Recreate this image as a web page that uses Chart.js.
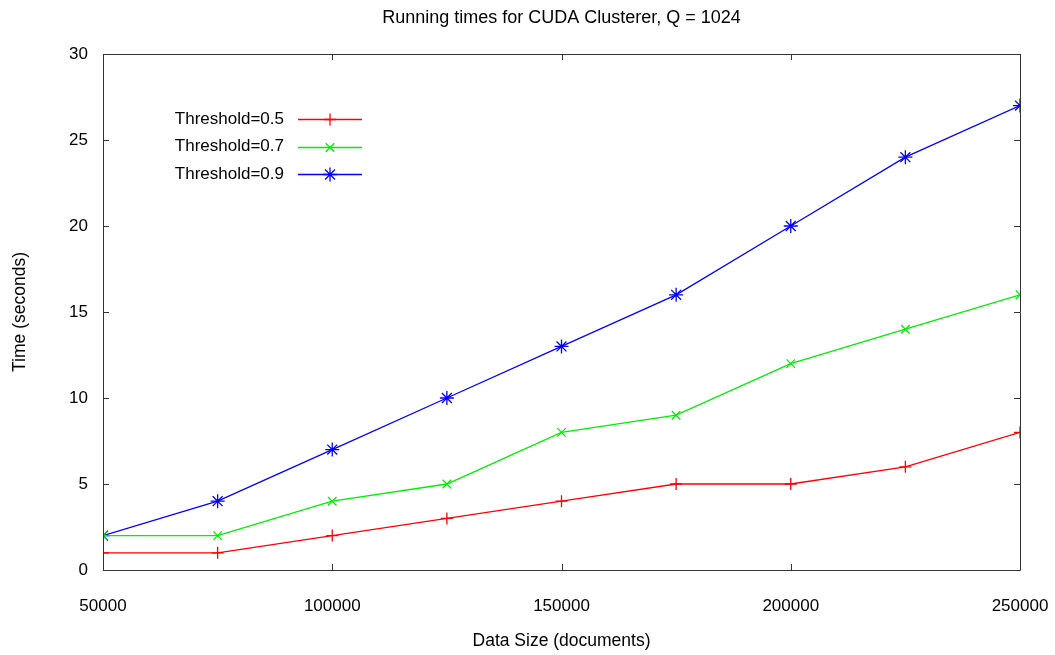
<!DOCTYPE html>
<html>
<head>
<meta charset="utf-8">
<script src="https://cdn.jsdelivr.net/npm/chart.js@4"></script>
<style>
  html, body { margin: 0; padding: 0; background: #fff; }
  #wrap { width: 1055px; height: 655px; }
</style>
</head>
<body>
<div id="wrap"><canvas id="chart"></canvas></div>
<script>
// data
var dataSizes = [50000, 75000, 100000, 125000, 150000, 175000, 200000, 225000, 250000];
var threshold05 = [1, 1, 2, 3, 4, 5, 5, 6, 8];
var threshold07 = [2, 2, 4, 5, 8, 9, 12, 14, 16];
var threshold09 = [2, 4, 7, 10, 13, 16, 20, 24, 27];
var seriesLabels = ['Threshold=0.5', 'Threshold=0.7', 'Threshold=0.9'];
var xTicks = [50000, 100000, 150000, 200000, 250000];
var yTicks = [0, 5, 10, 15, 20, 25, 30];

var FONT = 'Arial, "Liberation Sans", sans-serif';

function toPoints(values) {
    return values.map(function(v, i) { return {x: dataSizes[i], y: v}; });
}

// gnuplot style frame with inward ticks
var framePlugin = {
    id: 'frame',
    afterDatasetsDraw: function(chart) {
        var ctx = chart.ctx;
        var a = chart.chartArea;
        var xs = chart.scales.x, ys = chart.scales.y;
        var len = 6;
        ctx.save();
        ctx.strokeStyle = '#333';
        ctx.lineWidth = 1;
        ctx.beginPath();
        ctx.rect(a.left + 0.5, a.top + 0.5, a.right - a.left, a.bottom - a.top);
        yTicks.forEach(function(t) {
            var y = Math.round(ys.getPixelForValue(t)) + 0.5;
            ctx.moveTo(a.left, y); ctx.lineTo(a.left + len, y);
            ctx.moveTo(a.right, y); ctx.lineTo(a.right - len, y);
        });
        xTicks.forEach(function(t) {
            var x = Math.round(xs.getPixelForValue(t)) + 0.5;
            ctx.moveTo(x, a.bottom); ctx.lineTo(x, a.bottom - len);
            ctx.moveTo(x, a.top); ctx.lineTo(x, a.top + len);
        });
        ctx.stroke();
        ctx.restore();
    }
};

// key: text on the left, line sample with marker on the right
var keyPlugin = {
    id: 'gnuKey',
    afterDatasetsDraw: function(chart) {
        var ctx = chart.ctx;
        var a = chart.chartArea;
        ctx.save();
        ctx.font = '17px ' + FONT;
        ctx.textAlign = 'right';
        ctx.textBaseline = 'middle';
        chart.data.datasets.forEach(function(ds, i) {
            var y = a.top + 65 + i * 27.5;
            ctx.fillStyle = '#000';
            ctx.fillText(ds.label, a.left + 181, y);
            ctx.strokeStyle = ds.borderColor;
            ctx.lineWidth = ds.borderWidth;
            ctx.beginPath();
            ctx.moveTo(a.left + 195, Math.round(y) + 0.5);
            ctx.lineTo(a.left + 259, Math.round(y) + 0.5);
            ctx.stroke();
            Chart.helpers.drawPoint(ctx, {
                pointStyle: ds.pointStyle,
                radius: ds.pointRadius,
                borderWidth: ds.pointBorderWidth,
                rotation: 0
            }, a.left + 227, Math.round(y) + 0.5);
        });
        ctx.restore();
    }
};

function makeDataset(label, values, color, style, radius) {
    return {
        label: label,
        data: toPoints(values),
        borderColor: color,
        backgroundColor: color,
        borderWidth: 1.3,
        pointStyle: style,
        pointRadius: radius,
        pointBorderWidth: 1.3,
        pointHoverRadius: radius,
        tension: 0,
        fill: false
    };
}

new Chart(document.getElementById('chart'), {
    type: 'line',
    data: {
        datasets: [
            makeDataset(seriesLabels[0], threshold05, '#ff0000', 'cross', 6),
            makeDataset(seriesLabels[1], threshold07, '#00ee00', 'crossRot', 6),
            makeDataset(seriesLabels[2], threshold09, '#0000ff', 'star', 7)
        ]
    },
    options: {
        responsive: true,
        maintainAspectRatio: false,
        animation: false,
        events: [],
        layout: { padding: { left: 0, right: 35, top: 0, bottom: 0 } },
        plugins: {
            legend: { display: false },
            tooltip: { enabled: false },
            title: {
                display: true,
                fullSize: false,
                text: 'Running times for CUDA Clusterer, Q = 1024',
                color: '#000',
                font: { family: FONT, size: 18, weight: 'normal', lineHeight: 1.2 },
                padding: { top: 7, bottom: 25.4 }
            }
        },
        scales: {
            x: {
                type: 'linear',
                min: 50000,
                max: 250000,
                afterBuildTicks: function(scale) {
                    scale.ticks = xTicks.map(function(v) { return {value: v}; });
                },
                afterFit: function(scale) {
                    scale.height = 85;
                    scale.paddingLeft = 0;
                    scale.paddingRight = 0;
                },
                grid: { display: false, drawTicks: false },
                border: { display: false },
                ticks: {
                    color: '#000',
                    padding: 26,
                    maxRotation: 0,
                    font: { family: FONT, size: 17 },
                    callback: function(v) { return String(v); }
                },
                title: {
                    display: true,
                    text: 'Data Size (documents)',
                    color: '#000',
                    font: { family: FONT, size: 17.5 },
                    padding: { top: 0, bottom: 3 }
                }
            },
            y: {
                type: 'linear',
                min: 0,
                max: 30,
                afterBuildTicks: function(scale) {
                    scale.ticks = yTicks.map(function(v) { return {value: v}; });
                },
                afterFit: function(scale) {
                    scale.width = 103;
                    scale.paddingTop = 0;
                    scale.paddingBottom = 0;
                },
                grid: { display: false, drawTicks: false },
                border: { display: false },
                ticks: {
                    color: '#000',
                    padding: 15,
                    font: { family: FONT, size: 17 }
                },
                title: {
                    display: true,
                    text: 'Time (seconds)',
                    color: '#000',
                    font: { family: FONT, size: 17.5 },
                    padding: { top: 10, bottom: 0 }
                }
            }
        }
    },
    plugins: [framePlugin, keyPlugin]
});
</script>
</body>
</html>
